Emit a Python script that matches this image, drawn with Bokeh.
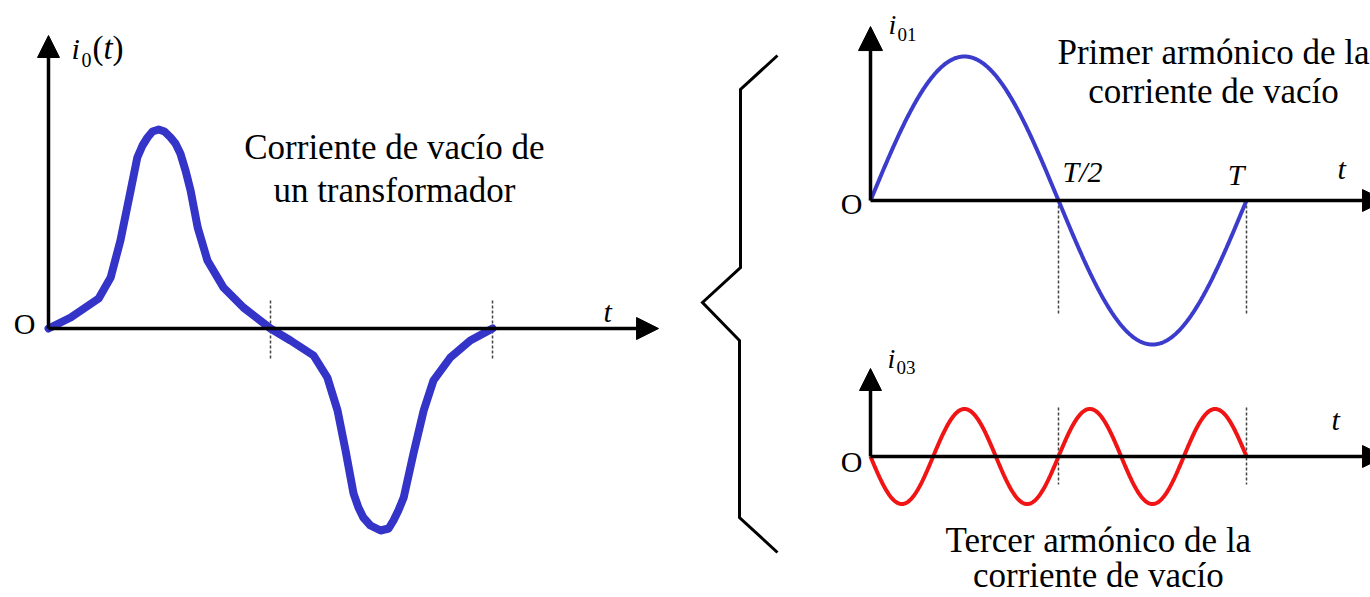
import numpy as np
from bokeh.plotting import figure
from bokeh.layouts import row
from bokeh.models import Arrow, NormalHead, Range1d
from bokeh.core.properties import value
from bokeh.embed import file_html
from bokeh.resources import INLINE

# ---------------------------------------------------------------------------
# Data
# ---------------------------------------------------------------------------
# No-load current of a transformer over one period (t in units of T,
# current in units of its peak value)
i0_t = [0.0, 0.050, 0.113, 0.140, 0.162, 0.185, 0.200, 0.2117, 0.223, 0.2342,
        0.248, 0.2613, 0.275, 0.286, 0.297, 0.3086, 0.320, 0.336, 0.358, 0.394,
        0.439, 0.500, 0.545, 0.597, 0.628, 0.651, 0.669, 0.687, 0.698, 0.709,
        0.725, 0.748, 0.766, 0.777, 0.788, 0.800, 0.822, 0.845, 0.867, 0.905,
        0.950, 1.000]
i0_v = [0.0, 0.055, 0.15, 0.255, 0.44, 0.69, 0.855, 0.915, 0.955, 0.985,
        0.995, 0.985, 0.955, 0.925, 0.875, 0.79, 0.69, 0.505, 0.34, 0.205,
        0.105, 0.0, -0.06, -0.135, -0.245, -0.41, -0.61, -0.825, -0.895, -0.945,
        -0.985, -1.01, -1.0, -0.96, -0.91, -0.845, -0.625, -0.41, -0.26, -0.145,
        -0.06, 0.0]

# Harmonic components of the no-load current
harmonic_order = [1, 3]
harmonic_amp = [1.0, 0.33]
harmonic_sign = [1.0, -1.0]

# Period markers (T/2 and T)
marker_t = [0.5, 1.0]
marker_labels = ["T/2", "T"]

SERIF = value("Liberation Serif")
BLUE_L = "#3434c8"
BLUE_R = "#3c3ccc"
RED = "#f01414"


def panel(width, height, xr, yr):
    p = figure(width=width, height=height, x_range=Range1d(*xr), y_range=Range1d(*yr),
               output_backend="svg", toolbar_location=None, min_border=0,
               x_axis_location=None, y_axis_location=None)
    p.grid.visible = False
    p.outline_line_color = None
    p.background_fill_color = "white"
    p.border_fill_color = "white"
    return p


def axis_arrow(p, x_end, y_end, size, lw=3.5, rng="default"):
    p.add_layout(Arrow(end=NormalHead(size=size, fill_color="black", line_color="black"),
                       x_start=0, y_start=0, x_end=x_end, y_end=y_end,
                       line_width=lw, line_color="black", y_range_name=rng))


def label(p, k, x, y, txt, size, italic=False, align="left", rng="default"):
    # y is the text baseline; k is the panel's vertical pixels per data unit
    p.text(x=[x], y=[y + 0.3 * size / k], text=[txt], text_font=SERIF,
           text_font_size=f"{size}px",
           text_font_style="italic" if italic else "normal",
           text_align=align, text_baseline="alphabetic", text_color="black",
           y_range_name=rng)


def markers(p, y0, y1, color="#444444", rng="default"):
    p.segment(x0=marker_t, y0=[y0] * len(marker_t), x1=marker_t, y1=[y1] * len(marker_t),
              line_color=color, line_width=1.5, line_dash="3 2", y_range_name=rng)


# ---------------------------------------------------------------------------
# Left panel: distorted no-load current
# ---------------------------------------------------------------------------
KL = 200.0
left = panel(690, 597, (-0.1081, 1.4459), (-1.345, 1.64))
markers(left, 0.14, -0.15)
axis_arrow(left, 1.374, 0, 22)
axis_arrow(left, 0, 1.465, 22)
left.line(i0_t, i0_v, line_color=BLUE_L, line_width=8, line_join="round", line_cap="round")

label(left, KL, -0.0293, -0.02, "O", 30, align="right")
label(left, KL, 1.250, 0.04, "t", 30, italic=True)
label(left, KL, 0.052, 1.355, "i", 30, italic=True)
label(left, KL, 0.0743, 1.315, "0", 20)
label(left, KL, 0.0991, 1.355, "(", 33)
label(left, KL, 0.1239, 1.355, "t", 33, italic=True)
label(left, KL, 0.1441, 1.355, ")", 33)
label(left, KL, 0.779, 0.855, "Corriente de vacío de", 35, align="center")
label(left, KL, 0.779, 0.64, "un transformador", 35, align="center")

# ---------------------------------------------------------------------------
# Brace joining the waveform to its harmonics
# ---------------------------------------------------------------------------
brace_x = [777, 740, 740, 702, 739, 739, 777]
brace_y = [55, 89, 267, 302, 340, 517, 552]
brace = panel(130, 597, (690, 820), (597, 0))
brace.line(brace_x, brace_y, line_color="black", line_width=3, line_join="miter")

# ---------------------------------------------------------------------------
# Right panel: first harmonic (default y range) and third harmonic
# (its own y range, drawn below the first)
# ---------------------------------------------------------------------------
t = np.linspace(0, 1, 600)
waves = [s * a * np.sin(2 * np.pi * n * t)
         for n, a, s in zip(harmonic_order, harmonic_amp, harmonic_sign)]

KR = 144.0
right = panel(550, 597, (-0.13298, 1.32979), (-2.7569, 1.3889))
right.extra_y_ranges = {"h3": Range1d(-0.9792, 3.1667)}

# first harmonic
markers(right, 0.0, -0.785)
axis_arrow(right, 1.367, 0, 22)
axis_arrow(right, 0, 1.208, 24)
right.line(t, waves[0], line_color=BLUE_R, line_width=4)
label(right, KR, -0.0213, -0.0833, "O", 30, align="right")
label(right, KR, 0.0479, 1.1667, "i", 28, italic=True)
label(right, KR, 0.0718, 1.111, "01", 19)
label(right, KR, marker_t[0] + 0.0106, 0.139, marker_labels[0], 30, italic=True)
label(right, KR, marker_t[1] - 0.050, 0.118, marker_labels[1], 30, italic=True)
label(right, KR, 1.242, 0.16, "t", 30, italic=True)
label(right, KR, 0.9122, 0.958, "Primer armónico de la", 35, align="center")
label(right, KR, 0.9122, 0.681, "corriente de vacío", 35, align="center")

# third harmonic
markers(right, 0.34, -0.194, rng="h3")
axis_arrow(right, 1.367, 0, 22, rng="h3")
axis_arrow(right, 0, 0.611, 22, rng="h3")
right.line(t, waves[1], line_color=RED, line_width=4, y_range_name="h3")
label(right, KR, -0.0213, -0.0972, "O", 30, align="right", rng="h3")
label(right, KR, 0.0452, 0.625, "i", 28, italic=True, rng="h3")
label(right, KR, 0.0691, 0.576, "03", 19, rng="h3")
label(right, KR, 1.226, 0.194, "t", 30, italic=True, rng="h3")
label(right, KR, 0.606, -0.653, "Tercer armónico de la", 35, align="center", rng="h3")
label(right, KR, 0.606, -0.896, "corriente de vacío", 35, align="center", rng="h3")

layout = row(left, brace, right, spacing=0)

open("out.html", "w").write(file_html(layout, INLINE))
